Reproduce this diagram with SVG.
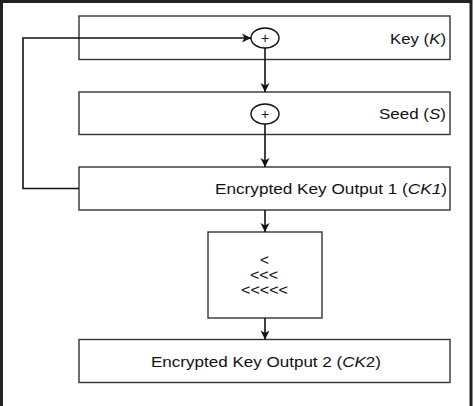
<svg xmlns="http://www.w3.org/2000/svg" width="474" height="406" viewBox="0 0 474 406">
<style>
.box{fill:#fff;stroke:#333;stroke-width:1.4}
.op{fill:#fff;stroke:#111;stroke-width:1.4}
.lbl{font-family:"Liberation Sans",Arial,sans-serif;font-size:14px;fill:#111}
.plus{font-family:"Liberation Sans",Arial,sans-serif;font-size:14px;fill:#111;text-anchor:middle}
.edge{fill:none;stroke:#111;stroke-width:1.6}
</style>
<defs>
<marker id="ah" markerWidth="10" markerHeight="10" refX="9" refY="5" orient="auto" markerUnits="userSpaceOnUse">
<path d="M0,0.5 L9,5 L0,9.5 L2.5,5 Z" fill="#111"/>
</marker>
</defs>
<rect width="474" height="406" fill="#fff"/>
<rect x="1.5" y="1.5" width="469.5" height="420" fill="none" stroke="#222" stroke-width="3"/>
<g id="key">
<rect class="box" x="79" y="16" width="371" height="43.5"/>
<text class="lbl" x="390" y="43.5" textLength="56" lengthAdjust="spacingAndGlyphs">Key (<tspan font-style="italic">K</tspan>)</text>
</g>
<g id="xor1">
<ellipse class="op" cx="265" cy="38" rx="14" ry="10"/>
<text class="plus" x="265" y="43">+</text>
</g>
<g id="seed">
<rect class="box" x="79" y="92" width="371" height="42.5"/>
<text class="lbl" x="379" y="118.5" textLength="67" lengthAdjust="spacingAndGlyphs">Seed (<tspan font-style="italic">S</tspan>)</text>
</g>
<g id="xor2">
<ellipse class="op" cx="265" cy="114" rx="14" ry="10"/>
<text class="plus" x="265" y="119">+</text>
</g>
<g id="ck1">
<rect class="box" x="79" y="167" width="371" height="43"/>
<text class="lbl" x="215" y="194" textLength="232" lengthAdjust="spacingAndGlyphs">Encrypted Key Output 1 (<tspan font-style="italic">CK1</tspan>)</text>
</g>
<g id="shift">
<rect class="box" x="208" y="232" width="114" height="86"/>
<text class="lbl" x="260" y="264.5" textLength="9" lengthAdjust="spacingAndGlyphs">&lt;</text>
<text class="lbl" x="250" y="279.5" textLength="28" lengthAdjust="spacingAndGlyphs">&lt;&lt;&lt;</text>
<text class="lbl" x="241" y="294.5" textLength="47" lengthAdjust="spacingAndGlyphs">&lt;&lt;&lt;&lt;&lt;</text>
</g>
<g id="ck2">
<rect class="box" x="79" y="339.5" width="371" height="43"/>
<text class="lbl" x="151" y="366.5" textLength="230" lengthAdjust="spacingAndGlyphs">Encrypted Key Output 2 (<tspan font-style="italic">CK</tspan>2)</text>
</g>
<g id="connectors">
<path class="edge" d="M79,188.5 H23 V38 H251" marker-end="url(#ah)"/>
<path class="edge" d="M265,48 V92" marker-end="url(#ah)"/>
<path class="edge" d="M265,124 V167" marker-end="url(#ah)"/>
<path class="edge" d="M265,210 V232" marker-end="url(#ah)"/>
<path class="edge" d="M265,318 V339.5" marker-end="url(#ah)"/>
</g>
</svg>
